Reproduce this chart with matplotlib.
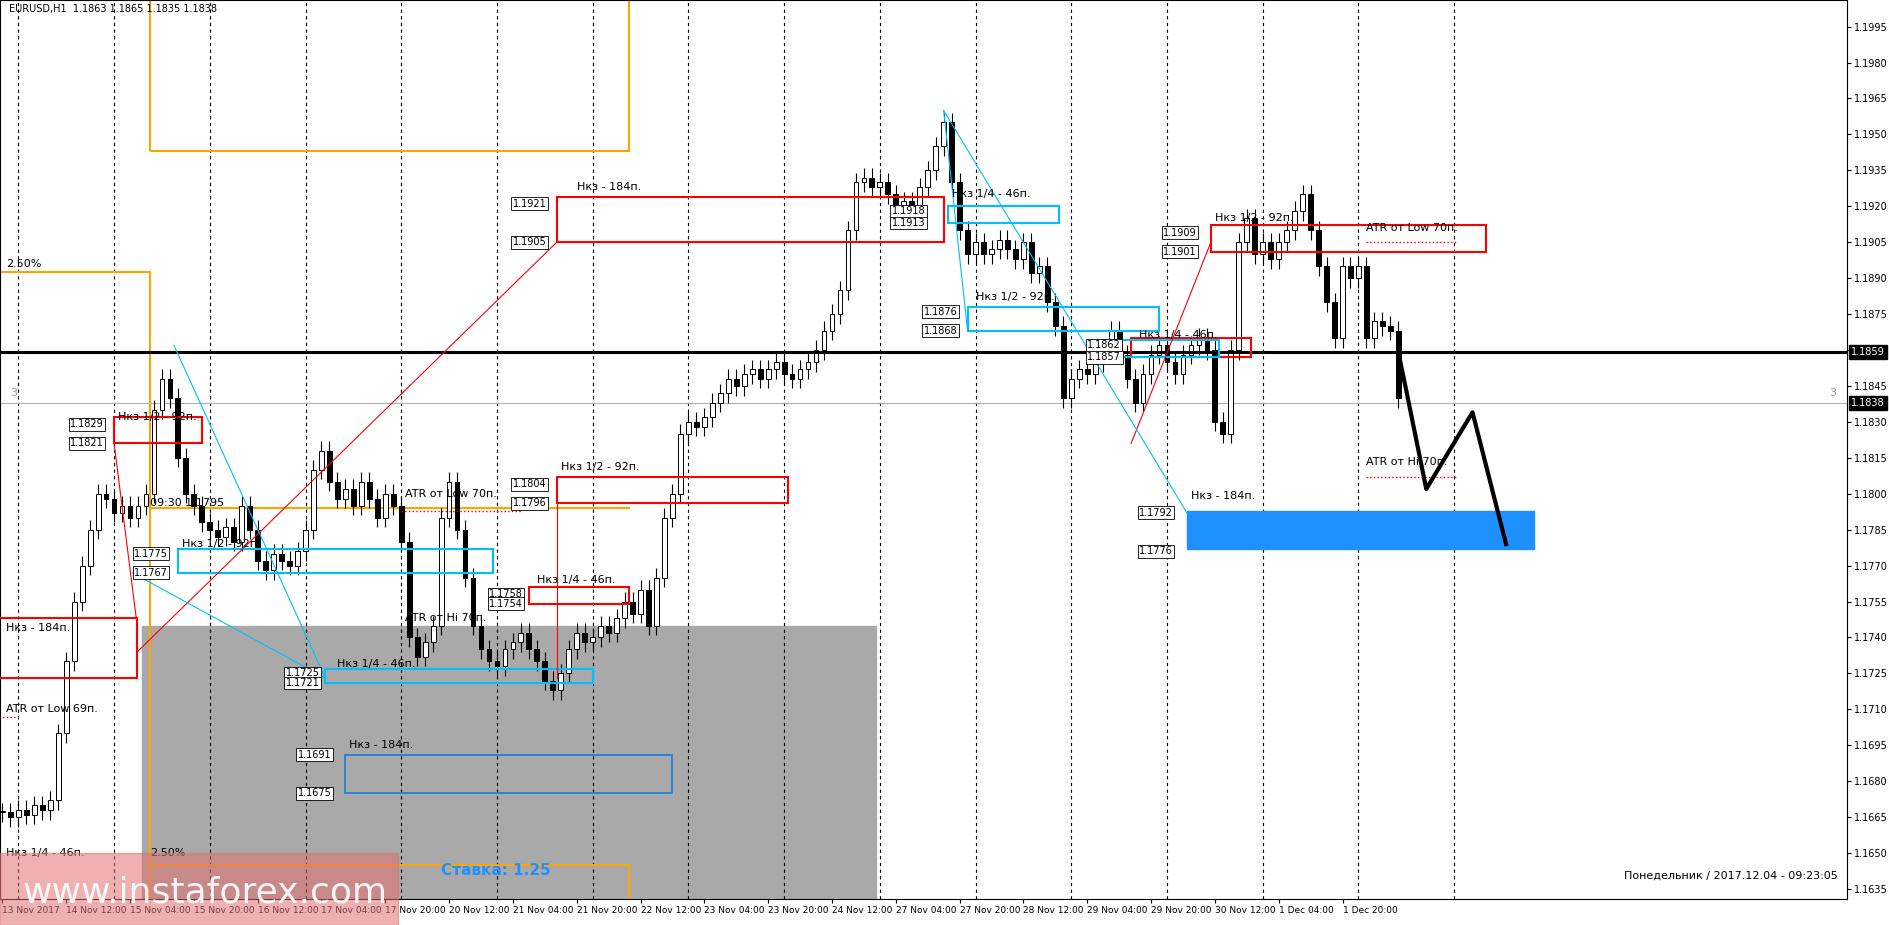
import matplotlib
matplotlib.use("Agg")
import matplotlib.pyplot as plt
from matplotlib.patches import Rectangle
import numpy as np

plt.rcParams['font.family'] = ['DejaVu Sans']

# closes, one candle per 2 hourly bars, starting 13 Nov 20:00
closes = [1.1667,1.1665,1.1668,1.1666,1.1670,1.1668,1.1672,1.1700,1.1730,1.1755,
1.1770,1.1785,1.1800,1.1798,1.1792,1.1795,1.1790,1.1795,1.1800,1.1835,
1.1848,1.1840,1.1815,1.1800,1.1795,1.1788,1.1785,1.1782,1.1786,1.1780,
1.1795,1.1785,1.1772,1.1768,1.1775,1.1772,1.1770,1.1776,1.1785,1.1810,
1.1818,1.1805,1.1798,1.1802,1.1795,1.1805,1.1798,1.1790,1.1800,1.1795,
1.1780,1.1740,1.1732,1.1738,1.1745,1.1790,1.1805,1.1785,1.1765,1.1745,
1.1735,1.1730,1.1728,1.1735,1.1738,1.1742,1.1735,1.1730,1.1722,1.1718,
1.1725,1.1735,1.1742,1.1738,1.1740,1.1745,1.1742,1.1748,1.1755,1.1750,
1.1760,1.1745,1.1765,1.1790,1.1800,1.1825,1.1830,1.1828,1.1832,1.1838,
1.1842,1.1848,1.1845,1.1850,1.1852,1.1848,1.1852,1.1855,1.1850,1.1848,
1.1852,1.1855,1.1860,1.1868,1.1875,1.1885,1.1910,1.1930,1.1932,1.1928,
1.1930,1.1925,1.1918,1.1922,1.1920,1.1928,1.1935,1.1945,1.1955,1.1930,
1.1910,1.1900,1.1905,1.1900,1.1902,1.1906,1.1902,1.1898,1.1905,1.1892,
1.1895,1.1880,1.1870,1.1840,1.1848,1.1852,1.1850,1.1855,1.1860,1.1868,
1.1858,1.1848,1.1838,1.1850,1.1858,1.1862,1.1855,1.1850,1.1858,1.1862,
1.1865,1.1860,1.1830,1.1825,1.1860,1.1905,1.1915,1.1900,1.1905,1.1898,
1.1905,1.1910,1.1918,1.1925,1.1910,1.1895,1.1880,1.1865,1.1895,1.1890,
1.1895,1.1865,1.1872,1.1870,1.1868,1.1840]

xtick_labels = ["13 Nov 2017","14 Nov 12:00","15 Nov 04:00","15 Nov 20:00","16 Nov 12:00",
"17 Nov 04:00","17 Nov 20:00","20 Nov 12:00","21 Nov 04:00","21 Nov 20:00","22 Nov 12:00",
"23 Nov 04:00","23 Nov 20:00","24 Nov 12:00","27 Nov 04:00","27 Nov 20:00","28 Nov 12:00",
"29 Nov 04:00","29 Nov 20:00","30 Nov 12:00","1 Dec 04:00","1 Dec 20:00"]
ytick_values = [1.1635+0.0015*k for k in range(25)]

red_boxes = [(-1,33.8,1.1745,1.1723),(28,50,1.1829,1.1821),(139,236,1.1921,1.1905),
             (139,197,1.1804,1.1796),(132,157,1.1758,1.1754),(303,372,1.1909,1.1901),(283,313,1.1862,1.1857)]
cyan_boxes = [(44,123,1.1775,1.1767),(242,290,1.1876,1.1868),(81,148,1.1725,1.1721),
              (237,265,1.1918,1.1913),(273,305,1.1862,1.1857)]
price_tags = [(17,1.1829),(17,1.1821),(128,1.1921),(128,1.1905),(128,1.1804),(128,1.1796),
              (122,1.1758),(122,1.1754),(33,1.1775),(33,1.1767),(231,1.1876),(231,1.1868),
              (71,1.1725),(71,1.1721),(291,1.1909),(291,1.1901),(223,1.1918),(223,1.1913),
              (74,1.1691),(74,1.1675),(285,1.1792),(285,1.1776),(272,1.1862),(272,1.1857)]
proj_x = [350, 352, 357, 368.6, 377]
proj_p = [1.1859, 1.1843, 1.1802, 1.1834, 1.1779]

fig = plt.figure(figsize=(18.89, 9.25), dpi=100)
ax = fig.add_axes([0.0, 0.028, 0.978, 0.972])
ax.set_xlim(-0.6, 462.6)
ax.set_ylim(1.16308, 1.20061)

ax.add_patch(Rectangle((35, 1.1600), 184, 1.1745-1.1600, color='#a9a9a9', zorder=0))
ax.add_patch(Rectangle((37, 1.19432), 120, 0.01, fill=False, ec='orange', lw=1.5, zorder=1))
ax.add_patch(Rectangle((37, 1.1600), 120, 1.1645-1.1600, fill=False, ec='orange', lw=1.5, zorder=1))
ax.add_patch(Rectangle((-5, 1.1600), 42, 1.18924-1.1600, fill=False, ec='orange', lw=1.5, zorder=1))
ax.plot([37,157],[1.1794,1.1794], color='orange', lw=1.5, zorder=1)

for d in range(4, 366, 24):
    ax.axvline(d, color='black', ls=(0,(3,3)), lw=0.8, zorder=0.5)

c = np.array(closes); o = np.concatenate([[c[0]], c[:-1]])
xs = np.arange(len(c))*2
hi = np.maximum(o, c)+0.0004; lo = np.minimum(o, c)-0.0004
ax.vlines(xs, lo, hi, color='black', lw=0.8, zorder=3)
for x_, a, b in zip(xs, o, c):
    ax.add_patch(Rectangle((x_-0.6, min(a,b)), 1.2, max(abs(b-a),0.00005),
                           fc='white' if b > a else 'black', ec='black', lw=0.7, zorder=4))

ax.axhline(1.1859, color='black', lw=2.2, zorder=5)
ax.axhline(1.1838, color='#b0b0b0', lw=0.8, zorder=2)

for x0,x1,ph,pl in red_boxes:
    ax.add_patch(Rectangle((x0,pl),x1-x0,ph-pl+0.0003,fill=False,ec='red',lw=1.5,zorder=6))
for x0,x1,ph,pl in cyan_boxes:
    ax.add_patch(Rectangle((x0,pl),x1-x0,ph-pl+0.0002,fill=False,ec='#00bfff',lw=1.5,zorder=6))
ax.add_patch(Rectangle((86,1.1675),82,0.0016,fill=False,ec='#1e7fe0',lw=1.3,zorder=6))
ax.add_patch(Rectangle((297,1.1777),87,0.0016,color='#1e90ff',zorder=6))

ax.plot([33.8,139],[1.1734,1.1905],color='red',lw=0.8,zorder=6)
ax.plot([28,33.8],[1.1821,1.1745],color='red',lw=0.8,zorder=6)
ax.plot([283,303],[1.1821,1.1905],color='red',lw=0.8,zorder=6)
ax.plot([139,139],[1.1796,1.1723],color='red',lw=0.8,zorder=6)
ax.plot([43,81],[1.1862,1.1723],color='#00bfff',lw=0.8,zorder=6)
ax.plot([32.6,81],[1.1767,1.1723],color='#00bfff',lw=0.8,zorder=6)
ax.plot([236,297],[1.1960,1.1792],color='#00bfff',lw=0.8,zorder=6)
ax.plot([236,242],[1.1960,1.1868],color='#00bfff',lw=0.8,zorder=6)
for xa,xb,p in [(342,365,1.1905),(342,365,1.1807),(-1,4,1.1707),(100,130,1.1793)]:
    ax.plot([xa,xb],[p,p],color='red',ls=':',lw=1,zorder=6)

ax.plot(proj_x, proj_p, color='black', lw=3, zorder=7)

for x_,p in price_tags:
    ax.text(x_,p,f"{p:.4f}",fontsize=7,va='center',ha='left',zorder=8,
            bbox=dict(boxstyle='square,pad=0.15',fc='white',ec='black',lw=0.6))

labels = [(29,1.1830,"Нкз 1/2 - 92п."),(1,1.1742,"Нкз - 184п."),(1,1.1708,"ATR от Low 69п."),
          (144,1.1926,"Нкз - 184п."),(140,1.1809,"Нкз 1/2 - 92п."),(134,1.1762,"Нкз 1/4 - 46п."),
          (84,1.1727,"Нкз 1/4 - 46п."),(87,1.1693,"Нкз - 184п."),(101,1.1798,"ATR от Low 70п."),
          (101,1.1746,"ATR от Hi 70п."),(45,1.1777,"Нкз 1/2 - 92п."),(37,1.1794,"09:30 1.1795"),
          (238,1.1923,"Нкз 1/4 - 46п."),(244,1.1880,"Нкз 1/2 - 92п."),(285,1.1864,"Нкз 1/4 - 46п."),
          (304,1.1913,"Нкз 1/2 - 92п."),(342,1.1909,"ATR от Low 70п."),(342,1.1811,"ATR от Hi 70п."),
          (298,1.1797,"Нкз - 184п."),(1,1.1648,"Нкз 1/4 - 46п.")]
for x_,p,t in labels:
    ax.text(x_,p,t,fontsize=8,va='bottom',zorder=8)
ax.text(1,1.1894,"2.50%",fontsize=8,va='bottom')
ax.text(37,1.1648,"2.50%",fontsize=8,va='bottom')
ax.text(2,1.1840,"3",fontsize=8,color='#999999',va='bottom')
ax.text(458,1.1840,"3",fontsize=8,color='#999999',va='bottom')

ax.text(0.005,0.996,"EURUSD,H1  1.1863 1.1865 1.1835 1.1838",transform=ax.transAxes,fontsize=7,va='top')
ax.text(0.995,0.02,"Понедельник / 2017.12.04 - 09:23:05",transform=ax.transAxes,fontsize=8,ha='right',va='bottom')

fig.patches.append(Rectangle((0,0),398/1889,72/925,transform=fig.transFigure,color='#e07070',alpha=0.55,zorder=20))
fig.text(0.012,0.035,"www.instaforex.com",fontsize=26,color='white',alpha=0.9,zorder=21,va='center')
ax.text(110,1.1641,"Ставка: 1.25",fontsize=11,fontweight='bold',color='#1e90ff',zorder=9)

ax.set_xticks([16*k for k in range(len(xtick_labels))])
ax.set_xticklabels(xtick_labels, fontsize=6.5, ha='left')
ax.set_yticks(ytick_values)
ax.set_yticklabels([f"{v:.4f}" for v in ytick_values], fontsize=7)
ax.yaxis.tick_right()
ax.tick_params(length=3, pad=2)
for lbl, val in [(1.1859,'1.1859'),(1.1838,'1.1838')]:
    ax.text(1.002,(lbl-1.16308)/(1.20061-1.16308),val,transform=ax.transAxes,fontsize=7,
            color='white',va='center',bbox=dict(boxstyle='square,pad=0.2',fc='black',ec='black'))
fig.savefig("out.png", dpi=100)
